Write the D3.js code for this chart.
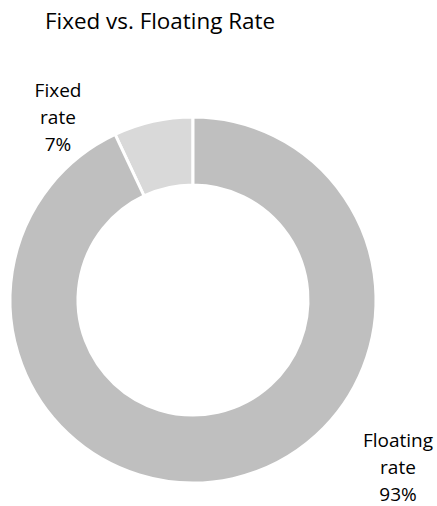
<!DOCTYPE html>
<html><head><meta charset="utf-8">
<script src="https://cdn.jsdelivr.net/npm/d3@7"></script>
<style>body{margin:0;background:#fff}svg{display:block}text{font-variant-ligatures:none}</style>
</head><body>
<script>
const categories = ["Fixed rate", "Floating rate"];
const values = [7, 93];
const labelText = ["7%", "93%"];
const colors = ["#d9d9d9", "#bfbfbf"];

const W = 437, H = 506;
const svg = d3.select("body").append("svg").attr("width", W).attr("height", H);
const font = "'Open Sans', sans-serif";

svg.append("text").attr("x", 45).attr("y", 29).attr("font-family", font)
  .attr("font-size", 22).attr("fill", "#000").attr("textLength", 230)
  .attr("lengthAdjust", "spacingAndGlyphs")
  .text("Fixed vs. Floating Rate");

const cx = 193, cy = 300, R = 183, r = 115;
const start = -2 * Math.PI * values[0] / 100;
const pie = d3.pie().sort(null).startAngle(start).endAngle(start + 2 * Math.PI);
const arcs = pie(values);
const arc = d3.arc().innerRadius(r).outerRadius(R);
const g = svg.append("g").attr("transform", `translate(${cx},${cy})`);
g.selectAll("path").data(arcs).join("path")
  .attr("d", arc).attr("fill", (d, i) => colors[i])
  .attr("stroke", "#fff").attr("stroke-width", 3);

const labelPos = [{x: 58, y: 97}, {x: 398, y: 447}];
arcs.forEach((d, i) => {
  const parts = categories[i].split(" ");
  const lines = [parts[0], parts[1], labelText[i]];
  const t = svg.append("text").attr("text-anchor", "middle").attr("font-family", font)
    .attr("font-size", 19).attr("fill", "#000");
  lines.forEach((l, j) => t.append("tspan").attr("x", labelPos[i].x).attr("y", labelPos[i].y + j * 27).text(l));
});
</script>
</body></html>
